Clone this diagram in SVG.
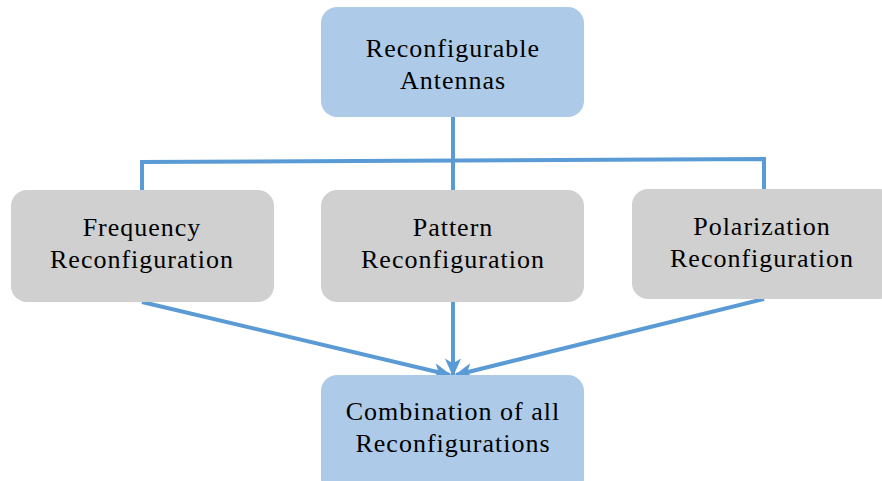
<svg xmlns="http://www.w3.org/2000/svg" width="882" height="481" viewBox="0 0 882 481">
  <defs>
    <style>
      .box-blue { fill: #adcbe9; }
      .box-gray { fill: #d0d0d0; }
      .label { font-family: "Liberation Serif", "DejaVu Serif", serif; font-size: 26px; letter-spacing: 1px; fill: #000; text-anchor: middle; }
      .wire { fill: none; stroke: #5b9bd5; stroke-width: 4; }
    </style>
    <marker id="head" viewBox="0 0 10 10" refX="9" refY="5" markerWidth="4.6" markerHeight="4.6" orient="auto" markerUnits="strokeWidth">
      <path d="M0,0.6 L10,5 L0,9.4 L2.6,5 Z" fill="#5b9bd5"/>
    </marker>
  </defs>

  <rect width="882" height="481" fill="#ffffff"/>

  <g id="connectors">
    <line class="wire" x1="453" y1="117" x2="453" y2="190"/>
    <polyline class="wire" points="142,190 142,162 764,159 764,189"/>
    <line class="wire" x1="142" y1="302" x2="450" y2="375" marker-end="url(#head)"/>
    <line class="wire" x1="453" y1="302" x2="453" y2="375" marker-end="url(#head)"/>
    <line class="wire" x1="764" y1="299" x2="456" y2="375" marker-end="url(#head)"/>
  </g>

  <g id="antennas">
    <rect class="box-blue" x="321" y="7" width="263" height="110" rx="16"/>
    <text class="label" x="453" y="57">Reconfigurable</text>
    <text class="label" x="453" y="89">Antennas</text>
  </g>

  <g id="frequency">
    <rect class="box-gray" x="11" y="190" width="263" height="112" rx="16"/>
    <text class="label" x="142" y="236">Frequency</text>
    <text class="label" x="142" y="268">Reconfiguration</text>
  </g>

  <g id="pattern">
    <rect class="box-gray" x="321" y="190" width="263" height="112" rx="16"/>
    <text class="label" x="453" y="236">Pattern</text>
    <text class="label" x="453" y="268">Reconfiguration</text>
  </g>

  <g id="polarization">
    <rect class="box-gray" x="632" y="189" width="263" height="110" rx="16"/>
    <text class="label" x="762" y="235">Polarization</text>
    <text class="label" x="762" y="267">Reconfiguration</text>
  </g>

  <g id="combination">
    <rect class="box-blue" x="321" y="375" width="263" height="120" rx="16"/>
    <text class="label" x="453" y="420">Combination of all</text>
    <text class="label" x="453" y="452">Reconfigurations</text>
  </g>
</svg>
